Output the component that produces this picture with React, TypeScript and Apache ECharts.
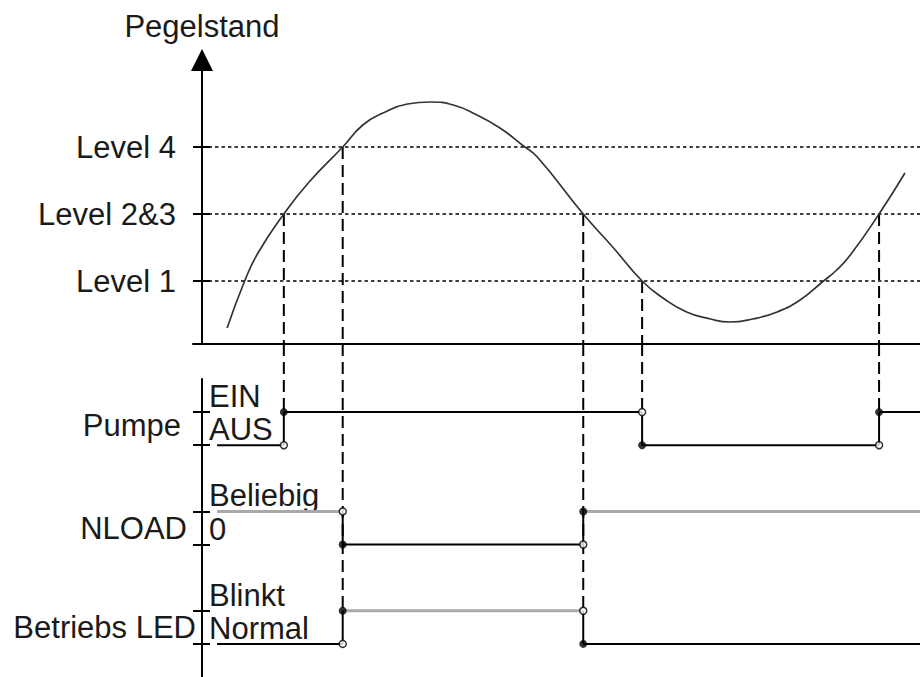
import React, { useEffect, useRef } from 'react';
import * as echarts from 'echarts';

// ---------- data ----------
const curveTime = [3.5, 6.0, 7.8, 11.4, 14.8, 19.6, 22.4, 25.2, 28.6, 31.8, 35.0, 38.3, 41.5, 44.6, 46.7, 53.1, 57.2, 61.3, 64.2, 67.5, 70.8, 73.5, 76.7, 80.1, 83.3, 86.4, 88.4, 90.3, 94.3, 97.9];
const curveLevel = [16, 64, 91, 130, 161, 197, 219, 231, 240, 242, 239, 229, 216, 199, 187, 130, 97, 63, 46, 32, 25, 22, 25, 32, 44, 62, 74, 89, 130, 171];

const levelNames = ['Level 1', 'Level 2&3', 'Level 4'];
const levelValues = [63, 130, 197];

const eventTimes = [11.4, 19.6, 53.1, 61.3, 94.3];
const eventLevels = [130, 197, 130, 63, 130];

const rowNames = ['Pumpe', 'NLOAD', 'Betriebs LED'];
const rowLowLabels = ['AUS', '0', 'Normal'];
const rowHighLabels = ['EIN', 'Beliebig', 'Blinkt'];

const pumpeTimes = [2.1, 11.4, 61.3, 94.3];
const pumpeStates = [0, 1, 0, 1];
const nloadTimes = [2.1, 19.6, 53.1];
const nloadStates = [1, 0, 1];
const ledTimes = [2.1, 19.6, 53.1];
const ledStates = [0, 1, 0];
const rowGrayHigh = [false, true, true];

const T_MIN = -1.25;
const T_MAX = 100;
const LEVEL_MAX = 284;
const SIG_MAX = 9;

// ---------- layout / style ----------
const rowBase = [7, 4, 1];
const rowNameShift = [0.6, 0.5, 0.5];
const rowNamePad = [15, 9, 0];
const FONT = '"Liberation Sans", Arial, Helvetica, sans-serif';
const TXT = { fontFamily: FONT, fontSize: 31, color: '#1a1a1a' };
const BLACK = '#000';
const GRAY = '#a9a9a9';

const rowTimes = [pumpeTimes, nloadTimes, ledTimes];
const rowStates = [pumpeStates, nloadStates, ledStates];

function buildOption(connectorTop: number | null) {
  const series: any[] = [];

  series.push({
    type: 'line', xAxisIndex: 0, yAxisIndex: 0, smooth: 0.5, showSymbol: false, symbol: 'none',
    data: curveTime.map((t, i) => [t, curveLevel[i]]),
    lineStyle: { color: '#333', width: 1.7 }, z: 4, silent: true,
  });

  levelValues.forEach((v) => {
    series.push({
      type: 'line', xAxisIndex: 0, yAxisIndex: 0, symbol: 'none', silent: true,
      data: [[0, v], [T_MAX, v]],
      lineStyle: { color: BLACK, width: 1.5, type: [3.5, 3] }, z: 2,
    });
  });

  eventTimes.forEach((t, i) => {
    series.push({
      type: 'line', xAxisIndex: 0, yAxisIndex: 0, symbol: 'none', silent: true,
      data: [[t, eventLevels[i]], [t, 0]],
      lineStyle: { color: BLACK, width: 2, type: [12, 6] }, z: 3,
    });
  });

  const sigAxis = { xAxisIndex: 1, yAxisIndex: 2 };
  const openPts: number[][] = [];
  const fullPts: number[][] = [];

  rowTimes.forEach((times, r) => {
    const states = rowStates[r];
    const base = rowBase[r];
    times.forEach((t, i) => {
      const s = states[i];
      const tEnd = i + 1 < times.length ? times[i + 1] : T_MAX;
      const gray = rowGrayHigh[r] && s === 1;
      series.push({
        type: 'line', ...sigAxis, symbol: 'none', silent: true,
        data: [[t, base + s], [tEnd, base + s]],
        lineStyle: { color: gray ? GRAY : BLACK, width: gray ? 3 : 2 }, z: 5,
      });
      if (i > 0) {
        const prev = states[i - 1];
        series.push({
          type: 'line', ...sigAxis, symbol: 'none', silent: true,
          data: [[t, base + prev], [t, base + s]],
          lineStyle: { color: BLACK, width: 2 }, z: 6,
        });
        openPts.push([t, base + prev]);
        fullPts.push([t, base + s]);
      }
    });
  });

  series.push({
    type: 'scatter', ...sigAxis, symbol: 'circle', symbolSize: 7, silent: true,
    data: openPts, itemStyle: { color: '#fff', borderColor: BLACK, borderWidth: 1.5 }, z: 10,
  });
  series.push({
    type: 'scatter', ...sigAxis, symbol: 'circle', symbolSize: 8, silent: true,
    data: fullPts, itemStyle: { color: BLACK }, z: 10,
  });

  if (connectorTop != null) {
    eventTimes.forEach((t) => {
      let end = Infinity;
      rowTimes.forEach((times, r) => {
        if (times.indexOf(t) > 0) end = Math.min(end, rowBase[r] + 1);
      });
      if (end === Infinity) return;
      series.push({
        type: 'line', ...sigAxis, symbol: 'none', silent: true, clip: false,
        data: [[t, connectorTop], [t, end]],
        lineStyle: { color: BLACK, width: 2, type: [12, 6] }, z: 3,
      });
    });
  }

  const sigTicks = rowBase.flatMap((b) => [b, b + 1]);
  const namePos = rowBase.map((b, i) => b + rowNameShift[i]);

  const rich: any = {};
  rowNames.forEach((_, i) => {
    rich['r' + i] = { ...TXT, padding: [0, rowNamePad[i], 0, 0] };
  });

  const stateLabel = (v: number) => {
    for (let r = 0; r < rowBase.length; r++) {
      if (Math.abs(v - rowBase[r]) < 1e-6) return rowLowLabels[r];
      if (Math.abs(v - rowBase[r] - 1) < 1e-6) return rowHighLabels[r];
    }
    return '';
  };

  return {
    animation: false,
    backgroundColor: '#fff',
    grid: [
      { left: 193, right: 0, top: 60, bottom: 333, containLabel: false },
      { left: 193, right: 0, top: 379, bottom: 0, containLabel: false },
    ],
    xAxis: [
      {
        gridIndex: 0, type: 'value', min: T_MIN, max: T_MAX,
        axisLine: { show: true, onZero: true, lineStyle: { color: BLACK, width: 2 } },
        axisTick: { show: false }, axisLabel: { show: false }, splitLine: { show: false },
      },
      {
        gridIndex: 1, type: 'value', min: T_MIN, max: T_MAX, show: false,
        axisLine: { show: false }, axisTick: { show: false }, axisLabel: { show: false }, splitLine: { show: false },
      },
    ],
    yAxis: [
      {
        gridIndex: 0, type: 'value', min: 0, max: LEVEL_MAX, position: 'left',
        name: 'Pegelstand', nameLocation: 'end', nameGap: 18,
        nameTextStyle: { ...TXT, align: 'center', verticalAlign: 'bottom' },
        axisLine: {
          show: true, onZero: true, onZeroAxisIndex: 0,
          symbol: ['none', 'triangle'], symbolSize: [22, 22],
          lineStyle: { color: BLACK, width: 2 },
        },
        axisTick: { show: true, customValues: levelValues, length: 9, inside: false, lineStyle: { color: BLACK, width: 2 } },
        axisLabel: {
          show: true, customValues: levelValues, margin: 17, ...TXT,
          formatter: (v: number) => levelNames[levelValues.indexOf(v)] ?? '',
        },
        splitLine: { show: false },
      },
      {
        gridIndex: 0, type: 'value', min: 0, max: LEVEL_MAX, position: 'left',
        axisLine: { show: false, onZero: true, onZeroAxisIndex: 0 },
        axisTick: { show: true, customValues: levelValues, length: 8, inside: true, lineStyle: { color: BLACK, width: 2 } },
        axisLabel: { show: false }, splitLine: { show: false },
      },
      {
        gridIndex: 1, type: 'value', min: 0, max: SIG_MAX, position: 'left',
        axisLine: { show: true, onZero: true, onZeroAxisIndex: 1, lineStyle: { color: BLACK, width: 2 } },
        axisTick: { show: true, customValues: sigTicks, length: 9, inside: false, lineStyle: { color: BLACK, width: 2 } },
        axisLabel: {
          show: true, customValues: namePos, margin: -3, ...TXT, rich,
          formatter: (v: number) => {
            const i = namePos.findIndex((p) => Math.abs(p - v) < 1e-6);
            return i < 0 ? '' : `{r${i}|${rowNames[i]}}`;
          },
        },
        splitLine: { show: false },
      },
      {
        gridIndex: 1, type: 'value', min: 0, max: SIG_MAX, position: 'left',
        axisLine: { show: false, onZero: true, onZeroAxisIndex: 1 },
        axisTick: { show: true, customValues: sigTicks, length: 8, inside: true, lineStyle: { color: BLACK, width: 2 } },
        axisLabel: {
          show: true, inside: true, customValues: sigTicks, margin: 16, ...TXT, verticalAlign: 'bottom',
          formatter: stateLabel,
        },
        splitLine: { show: false },
      },
    ],
    series,
  };
}

export default function App() {
  const ref = useRef<HTMLDivElement>(null);
  useEffect(() => {
    if (!ref.current) return;
    const chart = echarts.init(ref.current, null, { renderer: 'svg' });
    chart.setOption(buildOption(null) as any);
    const px = chart.convertToPixel({ gridIndex: 0 } as any, [0, 0]) as number[];
    const v = chart.convertFromPixel({ gridIndex: 1 } as any, px) as number[];
    chart.setOption(buildOption(v && isFinite(v[1]) ? v[1] : 10.06) as any, true);
    return () => chart.dispose();
  }, []);
  return <div ref={ref} style={{ position: 'absolute', left: 0, top: 0, width: 920, height: 677 }} />;
}
